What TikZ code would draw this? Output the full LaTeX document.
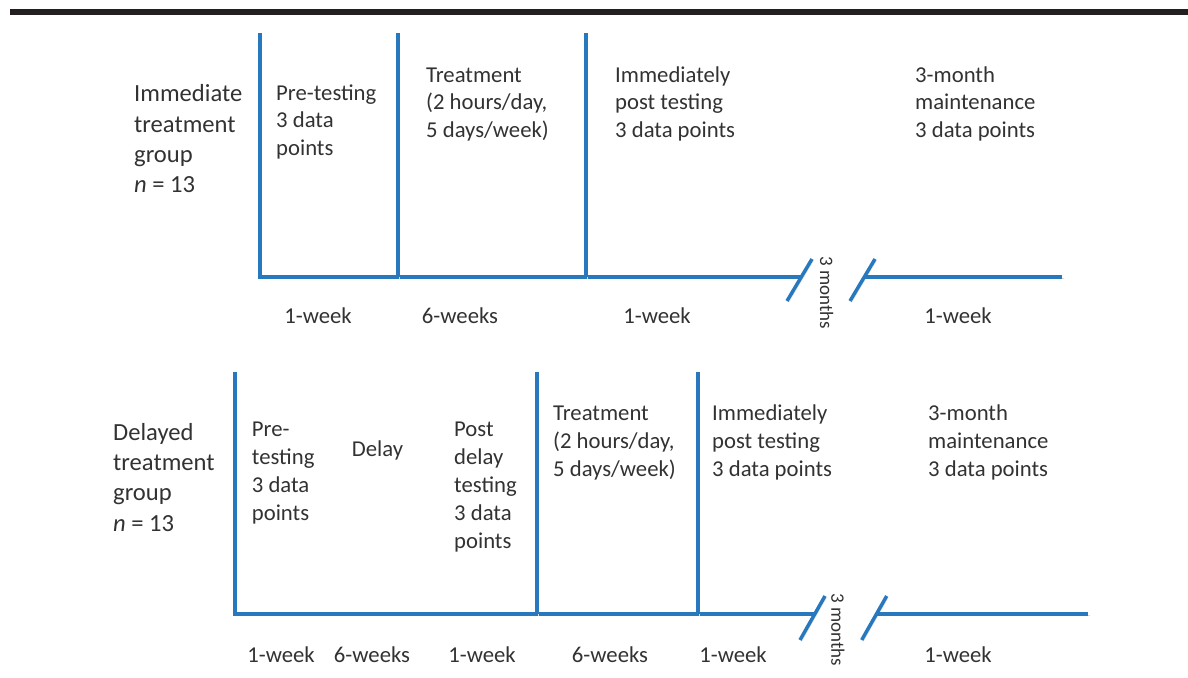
\documentclass[tikz,border=0pt]{standalone}
\usepackage{fontspec}
\setmainfont{Carlito}
\definecolor{lineblue}{RGB}{40,120,190}
\definecolor{txt}{RGB}{50,50,50}
\definecolor{barblack}{RGB}{35,31,32}
\begin{document}
\begin{tikzpicture}[x=1pt,y=-1pt,
  tl/.style={lineblue, line width=3.5pt, line join=miter,
    preaction={draw=black!15, transform canvas={shift={(1.5pt,-1.5pt)}}}},
  lbl/.style={txt, inner sep=0pt, anchor=base west, align=left,
    font=\fontsize{22.7pt}{27.9pt}\selectfont},
  grp/.style={lbl, font=\fontsize{24.6pt}{30.4pt}\selectfont},
  dur/.style={txt, inner sep=0pt, anchor=base,
    font=\fontsize{22.7pt}{27.9pt}\selectfont},
  mon/.style={txt, inner sep=0pt, rotate=-90,
    font=\fontsize{19pt}{22pt}\selectfont}]
\useasboundingbox (0,0) rectangle (1188,677);
\fill[barblack] (10,9) rectangle (1188,15);

% ---------- upper timeline ----------
\coordinate (a0t) at (260,33);  \coordinate (a0b) at (260,277);
\coordinate (a1t) at (398,33);  \coordinate (a1b) at (398,277);
\coordinate (a2t) at (586,33);  \coordinate (a2b) at (586,277);
\coordinate (ae1) at (801.3,277);
\coordinate (as1a) at (787,301); \coordinate (as1b) at (812,259);
\coordinate (as2a) at (850,301); \coordinate (as2b) at (875,259);
\coordinate (ae2) at (864,277);  \coordinate (aend) at (1062,277);

\draw[tl] (a0t) -- (a0b) -- (ae1);
\draw[tl] (a1t) -- (a1b);
\draw[tl] (a2t) -- (a2b);
\draw[tl] (as1a) -- (as1b);
\draw[tl] (as2a) -- (as2b);
\draw[tl] (ae2) -- (aend);

% anchors are at the baseline of the last line
\node[grp] (g1) at (134,192.9) {Immediate\\treatment\\group\\\textit{n} = 13};
\node[lbl] (p1) at (276,155.8) {Pre-testing\\3 data\\points};
\node[lbl] (t1) at (426,137.8) {Treatment\\(2 hours/day,\\5 days/week)};
\node[lbl] (i1) at (615,137.8) {Immediately\\post testing\\3 data points};
\node[lbl] (m1) at (915,137.8) {3-month\\maintenance\\3 data points};

\node[dur] (w11) at (318,323) {1-week};
\node[dur] (w12) at (460,323) {6-weeks};
\node[dur] (w13) at (657,323) {1-week};
\node[dur] (w14) at (958,323) {1-week};
\node[mon] (r1) at (826.7,292.5) {3 months};

% ---------- lower timeline ----------
\coordinate (b0t) at (235,372);  \coordinate (b0b) at (235,614);
\coordinate (b1t) at (537,372);  \coordinate (b1b) at (537,614);
\coordinate (b2t) at (698,372);  \coordinate (b2b) at (698,614);
\coordinate (be1) at (814.8,614);
\coordinate (bs1a) at (800,640);   \coordinate (bs1b) at (825,596);
\coordinate (bs2a) at (861.7,640); \coordinate (bs2b) at (886.7,596);
\coordinate (be2) at (876.5,614);  \coordinate (bend) at (1088,614);

\draw[tl] (b0t) -- (b0b) -- (be1);
\draw[tl] (b1t) -- (b1b);
\draw[tl] (b2t) -- (b2b);
\draw[tl] (bs1a) -- (bs1b);
\draw[tl] (bs2a) -- (bs2b);
\draw[tl] (be2) -- (bend);

\node[grp] (g2) at (113,531.2) {Delayed\\treatment\\group\\\textit{n} = 13};
\node[lbl] (p2) at (251.7,520.4) {Pre-\\testing\\3 data\\points};
\node[lbl] (d2) at (351.7,456.7) {Delay};
\node[lbl] (q2) at (454,548.3) {Post\\delay\\testing\\3 data\\points};
\node[lbl] (t2) at (553,476.2) {Treatment\\(2 hours/day,\\5 days/week)};
\node[lbl] (i2) at (712,476.2) {Immediately\\post testing\\3 data points};
\node[lbl] (m2) at (928,476.2) {3-month\\maintenance\\3 data points};

\node[dur] (w21) at (281,662) {1-week};
\node[dur] (w22) at (372,662) {6-weeks};
\node[dur] (w23) at (482,662) {1-week};
\node[dur] (w24) at (610,662) {6-weeks};
\node[dur] (w25) at (733,662) {1-week};
\node[dur] (w26) at (958,662) {1-week};
\node[mon] (r2) at (838,630) {3 months};
\end{tikzpicture}
\end{document}
